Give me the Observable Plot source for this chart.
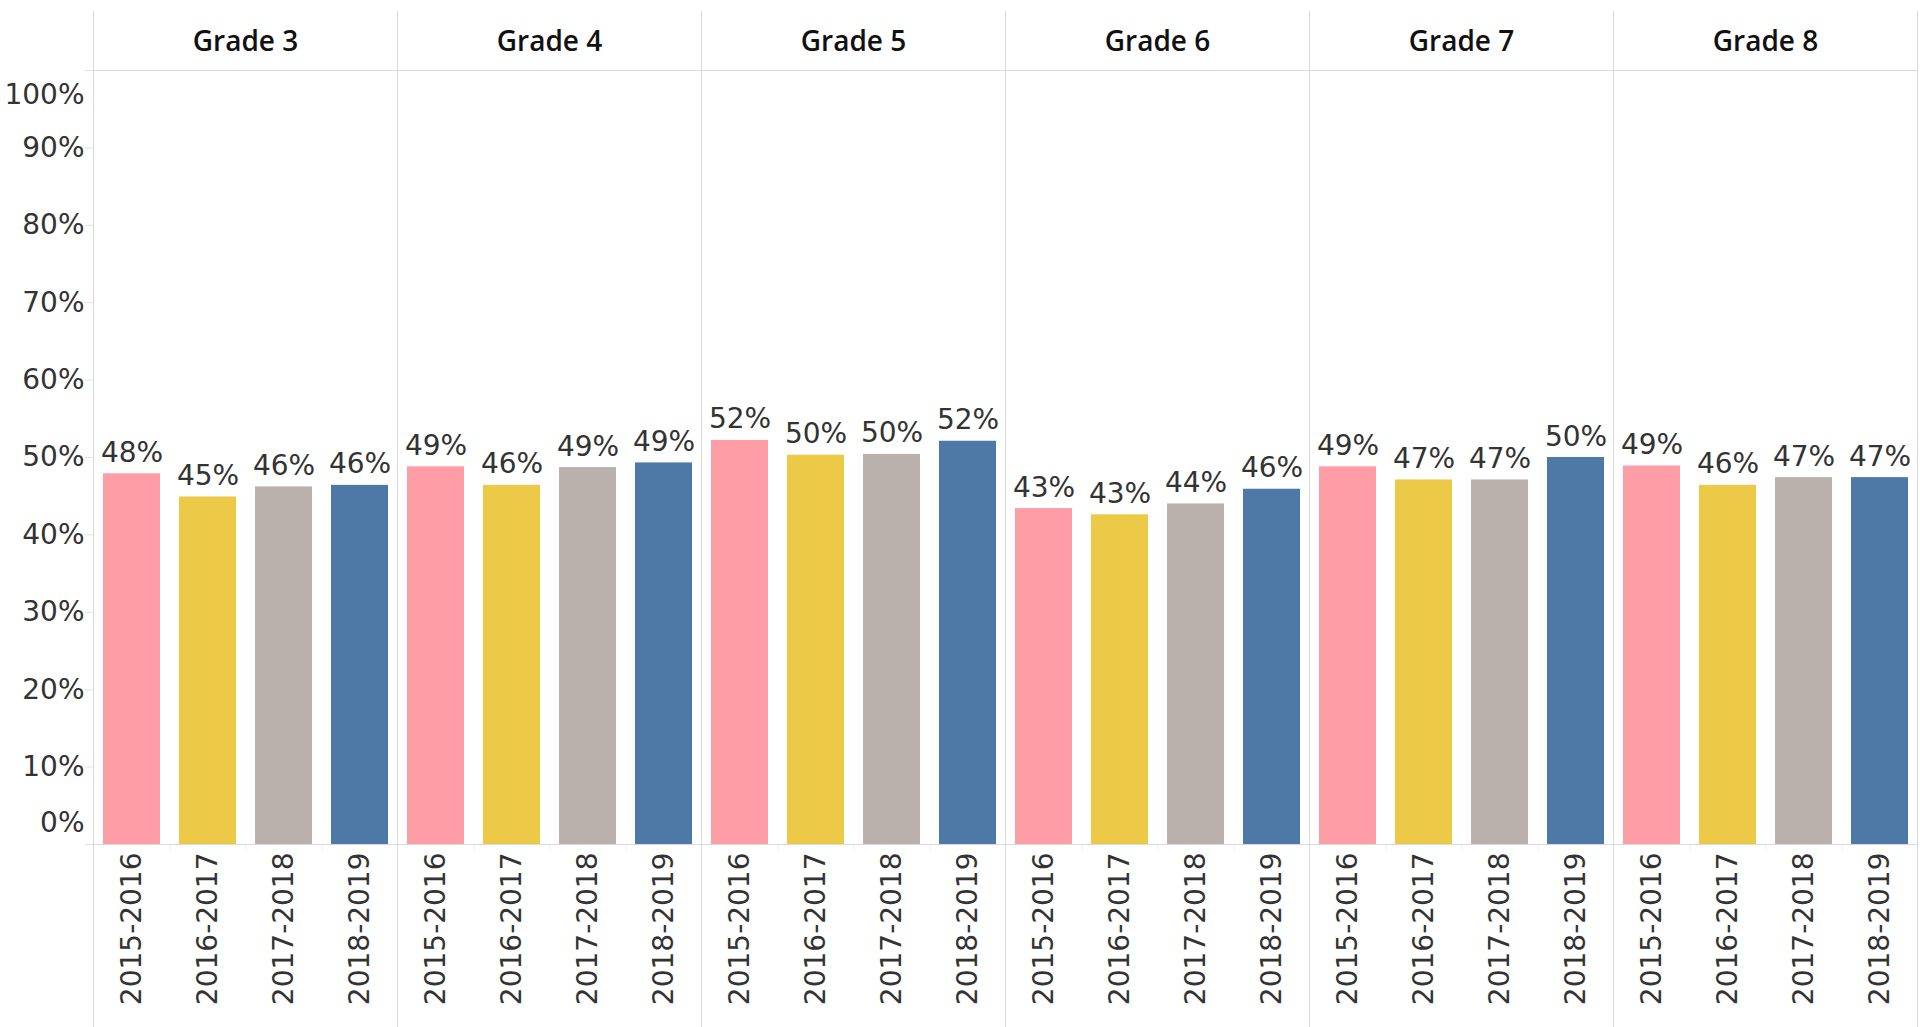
<!DOCTYPE html>
<html>
<head>
<meta charset="utf-8">
<script src="https://cdn.jsdelivr.net/npm/d3@7"></script>
<script src="https://cdn.jsdelivr.net/npm/@observablehq/plot@0.6"></script>
<style>
  html, body { margin: 0; padding: 0; background: #ffffff; }
  #chart { width: 1920px; height: 1027px; overflow: hidden; }
</style>
</head>
<body>
<div id="chart"></div>
<script>
// ---- data ----
const grades = ["Grade 3", "Grade 4", "Grade 5", "Grade 6", "Grade 7", "Grade 8"];
const years = ["2015-2016", "2016-2017", "2017-2018", "2018-2019"];
const grade3 = [0.479, 0.449, 0.462, 0.464];
const grade4 = [0.488, 0.464, 0.487, 0.493];
const grade5 = [0.522, 0.503, 0.504, 0.521];
const grade6 = [0.434, 0.426, 0.440, 0.459];
const grade7 = [0.488, 0.471, 0.471, 0.500];
const grade8 = [0.489, 0.464, 0.474, 0.474];
const yearColors = ["#FF9DA7", "#EDC948", "#BAB0AC", "#4E79A7"];
const yTicks = [0, 0.1, 0.2, 0.3, 0.4, 0.5, 0.6, 0.7, 0.8, 0.9, 1];

const seriesByGrade = [grade3, grade4, grade5, grade6, grade7, grade8];
const rows = grades.flatMap((g, i) =>
  years.map((y, j) => ({grade: g, year: y, value: seriesByGrade[i][j]}))
);

const pct = d3.format(".0%");
const numFont = "DejaVu Sans";
const lineColor = "#d9d9d9";
const textColor = "#333333";
const midTicks = yTicks.filter(t => t > 0 && t < 1);

const chart = Plot.plot({
  width: 1920,
  height: 1027,
  marginLeft: 91,
  marginRight: 1,
  marginTop: 70,
  marginBottom: 183,
  style: {fontFamily: numFont, fontSize: "28px", color: textColor, background: "#ffffff"},
  fx: {domain: grades, padding: 0, axis: null, label: null},
  x: {domain: years, paddingInner: 0.25, paddingOuter: 0.125, label: null},
  y: {domain: [0, 1], label: null},
  color: {domain: years, range: yearColors},
  marks: [
    // panel separators (left of each panel, and right edge)
    Plot.frame({anchor: "left", stroke: lineColor, insetTop: -59, insetBottom: -183}),
    Plot.frame({anchor: "right", stroke: lineColor, insetTop: -59, insetBottom: -183}),
    // header bottom line and baseline
    Plot.ruleY([0, 1], {stroke: lineColor}),
    // small ticks between bands on the baseline
    Plot.ruleX(years.slice(1), {x: d => d, y1: 0, y2: 0, insetBottom: -6, dx: -38.1, stroke: "#ececec"}),
    // bars
    Plot.barY(rows, {fx: "grade", x: "year", y: "value", fill: "year"}),
    // value labels
    Plot.text(rows, {
      fx: "grade", x: "year", y: "value",
      text: d => pct(d.value),
      lineAnchor: "bottom", dy: -12,
      fill: textColor, fontSize: 28, fontFamily: numFont
    }),
    // panel headers
    Plot.text(grades, {
      fx: d => d, text: d => d,
      frameAnchor: "top", lineAnchor: "middle", dy: -28,
      fontFamily: "Open Sans", fontWeight: 600, fontSize: 28, fill: "#111111"
    }),
    // y axis ticks
    Plot.axisY(yTicks, {tickSize: 8, tickFormat: () => "", stroke: "#e2e2e2", label: null}),
    // y axis labels
    Plot.axisY(midTicks, {tickSize: 0, tickPadding: 9, tickFormat: pct, fill: textColor, fontSize: 28, fontFamily: numFont, label: null}),
    Plot.axisY([0], {tickSize: 0, tickPadding: 9, tickFormat: pct, fill: textColor, fontSize: 28, fontFamily: numFont, dy: -21, label: null}),
    Plot.axisY([1], {tickSize: 0, tickPadding: 9, tickFormat: pct, fill: textColor, fontSize: 28, fontFamily: numFont, dy: 25, label: null}),
    // x axis labels (rotated)
    Plot.axisX({tickSize: 0, tickPadding: 8, tickRotate: -90, fill: textColor, fontSize: 28, fontFamily: numFont, label: null})
  ]
});

document.getElementById("chart").appendChild(chart);
</script>
</body>
</html>
